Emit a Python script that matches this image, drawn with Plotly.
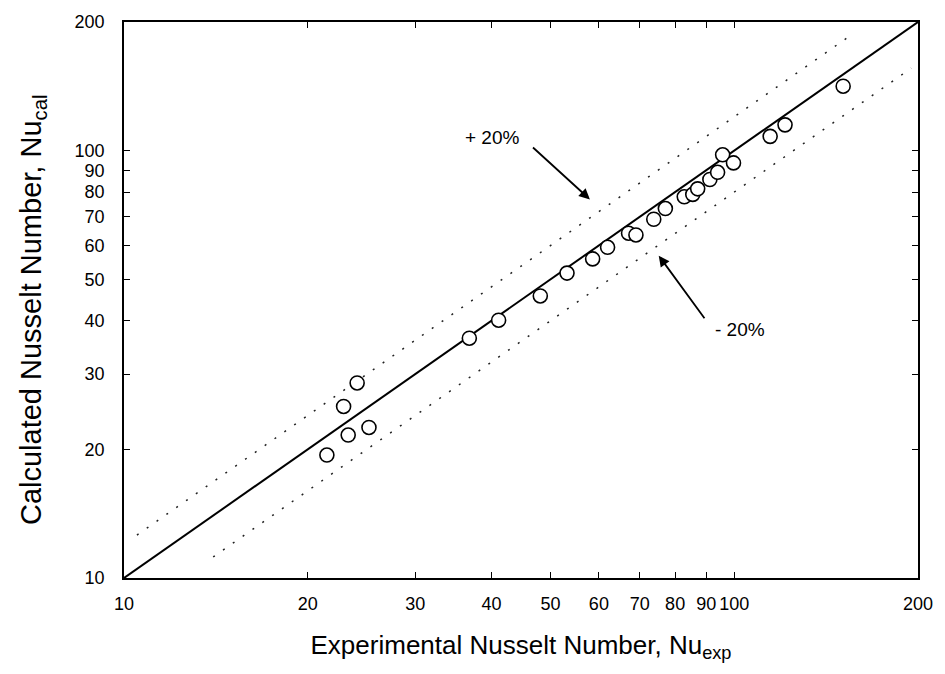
import math
import plotly.graph_objects as go

# Data
nu_exp = [21.5, 23.3, 25.2, 22.9, 24.1, 36.8, 41.1, 48.1, 53.2, 58.6, 62.0, 67.1, 69.0,
          73.8, 77.1, 82.8, 85.5, 87.1, 91.2, 93.9, 95.7, 99.7, 114.5, 121.1, 150.8]
nu_cal = [19.4, 21.6, 22.5, 25.2, 28.6, 36.4, 40.1, 45.7, 51.7, 55.8, 59.4, 64.1, 63.5,
          69.1, 73.2, 78.0, 79.0, 81.4, 85.6, 89.0, 97.8, 93.6, 108.0, 114.9, 141.5]

line_x = [10, 200]
upper_x = [10.5, 155]
upper_factor = 1.2
lower_x = [14, 195]
lower_factor = 0.8

tick_vals = [10, 20, 30, 40, 50, 60, 70, 80, 90, 100, 200]
tick_text = ["10", "20", "30", "40", "50", "60", "70", "80", "90", "100", "200"]

x_title = "Experimental Nusselt Number, Nu<sub>exp</sub>"
y_title = "Calculated Nusselt Number, Nu<sub>cal</sub>"

# arrow tips (data values) for the +/-20% labels
plus_tip = (58.0, 76.9)
minus_tip = (75.2, 56.8)

FONT = "Liberation Sans, Arial, sans-serif"

L, R, T, B = 124, 26, 18, 96
W, H = 945, 674
PW, PH = W - L - R, H - T - B

fig = go.Figure()
fig.add_trace(go.Scatter(x=line_x, y=line_x, mode="lines",
                         line=dict(color="black", width=2), showlegend=False))
fig.add_trace(go.Scatter(x=upper_x, y=[v * upper_factor for v in upper_x], mode="lines",
                         line=dict(color="#222", width=1.5, dash="2px,10px"), showlegend=False))
fig.add_trace(go.Scatter(x=lower_x, y=[v * lower_factor for v in lower_x], mode="lines",
                         line=dict(color="#222", width=1.5, dash="2px,10px"), showlegend=False))
fig.add_trace(go.Scatter(x=nu_exp, y=nu_cal, mode="markers",
                         marker=dict(symbol="circle", size=14, color="white",
                                     line=dict(color="black", width=1.6)),
                         showlegend=False))

fig.add_annotation(x=math.log10(plus_tip[0]), y=math.log10(plus_tip[1]), xref="x", yref="y",
                   ax=-68, ay=-62, text="+ 20%", xanchor="right", yanchor="middle",
                   showarrow=True, arrowhead=2, arrowsize=1.2, arrowwidth=1.8,
                   arrowcolor="black", startstandoff=15,
                   font=dict(family=FONT, size=19, color="black"))
fig.add_annotation(x=math.log10(minus_tip[0]), y=math.log10(minus_tip[1]), xref="x", yref="y",
                   ax=54, ay=74, text="- 20%", xanchor="left", yanchor="middle",
                   showarrow=True, arrowhead=2, arrowsize=1.2, arrowwidth=1.8,
                   arrowcolor="black", startstandoff=14,
                   font=dict(family=FONT, size=19, color="black"))

# y-axis title placed as rotated annotation
fig.add_annotation(x=(33 - L) / PW, y=1 - (308 - T) / PH, xref="paper", yref="paper",
                   text=y_title, textangle=-90, showarrow=False,
                   xanchor="center", yanchor="middle",
                   font=dict(family=FONT, size=29, color="black"))

axis_common = dict(type="log", showgrid=False, zeroline=False, showline=True,
                   linecolor="black", linewidth=1.5, mirror="ticks", ticks="inside",
                   ticklen=6, tickwidth=1.2, tickcolor="black",
                   tickvals=tick_vals, ticktext=tick_text,
                   tickfont=dict(family=FONT, size=18, color="black"))

fig.update_layout(
    width=W, height=H,
    margin=dict(l=L, r=R, t=T, b=B),
    paper_bgcolor="white", plot_bgcolor="white",
    xaxis=dict(range=[1, 2.30103], ticklabelstandoff=9,
               title=dict(text=x_title,
                          font=dict(family=FONT, size=26, color="black"), standoff=22),
               **axis_common),
    yaxis=dict(range=[1, 2.30103], ticklabelstandoff=14, **axis_common),
)

fig.write_html("out.html")
